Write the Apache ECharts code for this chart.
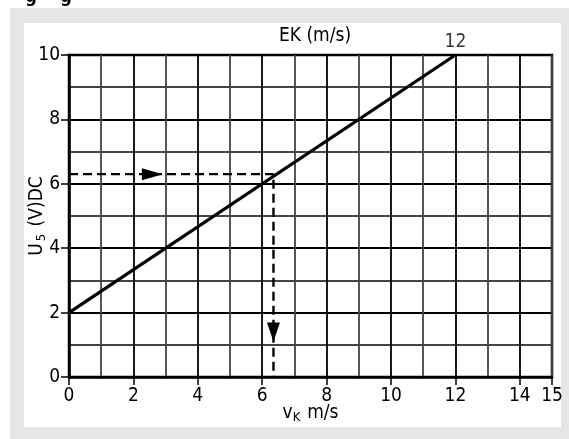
<!DOCTYPE html>
<html><head><meta charset="utf-8">
<script src="https://cdn.jsdelivr.net/npm/echarts@6/dist/echarts.min.js"></script>
<style>html,body{margin:0;padding:0;background:#fff;}#c{width:569px;height:439px;}</style>
</head><body><div id="c"></div>
<script>
const FONT = "'Liberation Sans Narrow','DejaVu Sans Condensed','Roboto Condensed',sans-serif";
// data
const xTickValues = [0, 2, 4, 6, 8, 10, 12, 14, 15];
const yTickValues = [0, 2, 4, 6, 8, 10];
const mainLine = [[0, 2], [12, 10]];
const readingPath = [[0, 6.3], [6.35, 6.3], [6.35, 0]];
const arrowRight = [[2.59, 6.3]];
const arrowDown = [[6.35, 1.4]];
const endLabel = [[12, 10, '12']];

const chart = echarts.init(document.getElementById('c'), null, {renderer: 'canvas'});
const gridColors = ['#000', '#444'];
const lbl = {color: '#000', fontSize: 19, fontFamily: FONT};
chart.setOption({
  backgroundColor: '#fff',
  animation: false,
  textStyle: {fontFamily: FONT},
  graphic: [
    {type: 'rect', shape: {x: 10, y: 8, width: 559, height: 431}, style: {fill: '#e6e6e6'}, z: -10, silent: true},
    {type: 'rect', shape: {x: 24, y: 23, width: 537, height: 404}, style: {fill: '#fff'}, z: -9, silent: true},
    {type: 'text', x: 315, y: 36, style: {text: 'EK (m/s)', font: '19px ' + FONT, fill: '#000', align: 'center', verticalAlign: 'middle'}, z: 10},
    {type: 'text', x: 31, y: 6, style: {text: 'g', font: 'bold 18px ' + FONT, fill: '#000', align: 'center', verticalAlign: 'bottom'}, z: 10},
    {type: 'text', x: 66, y: 6, style: {text: 'g', font: 'bold 18px ' + FONT, fill: '#000', align: 'center', verticalAlign: 'bottom'}, z: 10}
  ],
  grid: {left: 69, top: 55, width: 483, height: 322, show: true, borderColor: '#000', borderWidth: 2.5, backgroundColor: 'transparent'},
  xAxis: [{
    type: 'value', min: 0, max: 15, interval: 1,
    axisLine: {show: false}, axisTick: {show: false}, axisLabel: {show: false},
    splitLine: {show: true, lineStyle: {color: gridColors, width: 1.8}}
  }, {
    type: 'value', min: 0, max: 15, interval: 1, position: 'bottom',
    axisLine: {show: true, lineStyle: {color: '#000', width: 2.5}},
    axisTick: {show: true, customValues: xTickValues, length: 8, lineStyle: {color: '#000', width: 1.5}},
    axisLabel: Object.assign({customValues: xTickValues, margin: 10}, lbl),
    splitLine: {show: false},
    name: '{v|v}{s|K}  {v|m/s}', nameLocation: 'middle', nameGap: 26, nameMoveOverlap: false,
    nameTextStyle: {verticalAlign: 'top', rich: {v: {fontSize: 19, fontFamily: FONT, color: '#000'}, s: {fontSize: 13, fontFamily: FONT, color: '#000', padding: [8, 0, 0, 0]}}}
  }],
  yAxis: [{
    type: 'value', min: 0, max: 10, interval: 1,
    axisLine: {show: false}, axisTick: {show: false}, axisLabel: {show: false},
    splitLine: {show: true, lineStyle: {color: gridColors, width: 1.8}}
  }, {
    type: 'value', min: 0, max: 10, interval: 1, position: 'left',
    axisLine: {show: true, lineStyle: {color: '#000', width: 2.5}},
    axisTick: {show: true, customValues: yTickValues, length: 8, lineStyle: {color: '#000', width: 1.5}},
    axisLabel: Object.assign({customValues: yTickValues, margin: 9}, lbl),
    splitLine: {show: false},
    name: '{v|U}{s|5}{v| (V)DC}', nameLocation: 'middle', nameGap: 21, nameRotate: 90, nameMoveOverlap: false,
    nameTextStyle: {verticalAlign: 'bottom', rich: {v: {fontSize: 19, fontFamily: FONT, color: '#000'}, s: {fontSize: 13, fontFamily: FONT, color: '#000', padding: [8, 2, 0, 2]}}}
  }],
  series: [
    {type: 'line', data: mainLine, symbol: 'none', lineStyle: {color: '#000', width: 3.2}, z: 5},
    {type: 'line', data: readingPath, symbol: 'none', lineStyle: {color: '#000', width: 2.4, type: [9, 5]}, z: 4},
    {type: 'scatter', data: arrowRight, symbol: 'triangle', symbolSize: [12, 21], symbolRotate: -90, itemStyle: {color: '#000', opacity: 1}, z: 6},
    {type: 'scatter', data: arrowDown, symbol: 'triangle', symbolSize: [13, 19], symbolRotate: 180, itemStyle: {color: '#000', opacity: 1}, z: 6},
    {type: 'scatter', data: endLabel, symbolSize: 0, label: {show: true, position: 'top', distance: 3, formatter: p => p.data[2], color: '#000', fontSize: 19, fontFamily: FONT}, z: 6}
  ]
});
</script></body></html>
